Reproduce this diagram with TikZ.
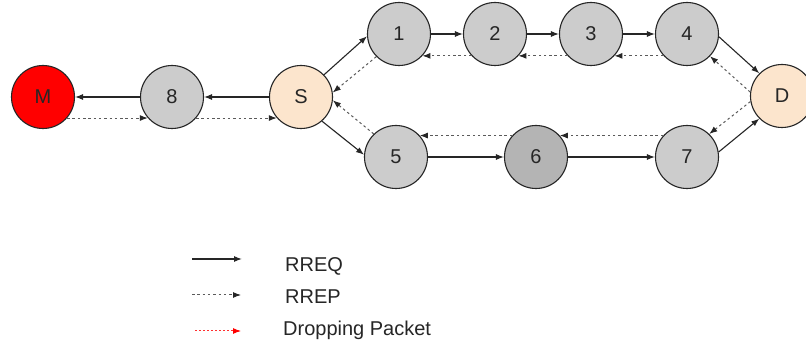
\documentclass[tikz,border=0pt]{standalone}
\usepackage{fontspec}
\setmainfont{Liberation Sans}
\usetikzlibrary{arrows.meta}
\definecolor{peach}{HTML}{FCE5CD}
\definecolor{nodegray}{HTML}{CCCCCC}
\definecolor{midgray}{HTML}{B4B4B4}
\definecolor{dotgray}{HTML}{5A5A5A}
\definecolor{ink}{HTML}{262626}
\definecolor{dropred}{HTML}{FF3030}

\begin{document}
\begin{tikzpicture}[x=1pt,y=-1pt,
  host/.style={circle,draw=ink,line width=1.1pt,minimum size=63pt,inner sep=0pt,
    font=\fontsize{20}{24}\selectfont,text=ink,fill=nodegray},
  req/.style={line width=1.1pt,draw=ink,-{Latex[length=8pt,width=6pt,color=ink]}},
  rep/.style={line width=1pt,draw=dotgray,dash pattern=on 2.5pt off 2.8pt,
    -{Latex[length=8pt,width=6pt,color=ink]}},
  drop/.style={line width=1pt,draw=dropred,dash pattern=on 2pt off 2pt,
    -{Latex[length=8pt,width=6pt,color=red]}},
  legendtext/.style={anchor=west,font=\fontsize{20}{24}\selectfont,text=ink,inner sep=0pt}
]
\clip (0,0) rectangle (806,347);
\fill[white] (0,0) rectangle (806,347);

% hosts
\node[host,fill=red] (M) at (43,97) {M};
\node[host] (n8) at (172,97) {8};
\node[host,fill=peach] (S) at (301,97) {S};
\node[host] (n1) at (399,34) {1};
\node[host] (n2) at (495,34) {2};
\node[host] (n3) at (591,34) {3};
\node[host] (n4) at (687,34) {4};
\node[host,fill=peach] (D) at (782,96) {D};
\node[host] (n5) at (396,157) {5};
\node[host,fill=midgray] (n6) at (536,157) {6};
\node[host] (n7) at (687,157) {7};

% route requests
\draw[req] (S.west) -- (n8.east);
\draw[req] (n8.west) -- (M.east);
\draw[req] (S.44) -- (n1.184);
\draw[req] (n1.east) -- (n2.west);
\draw[req] (n2.east) -- (n3.west);
\draw[req] (n3.east) -- (n4.west);
\draw[req] (n4.-5) -- (D.135);
\draw[req] (S.-49) -- (n5.176);
\draw[req] (n5.east) -- (n6.west);
\draw[req] (n6.east) -- (n7.west);
\draw[req] (n7.9) -- (D.225);

% route replies
\draw[rep] (M.-41) -- (n8.221);
\draw[rep] (n8.-41) -- (S.221);
\draw[rep] (n4.223) -- (n3.-43);
\draw[rep] (n3.223) -- (n2.-43);
\draw[rep] (n2.223) -- (n1.-43);
\draw[rep] (n1.225) -- (S.8);
\draw[rep] (D.173) -- (n4.-44);
\draw[rep] (D.190) -- (n7.46);
\draw[rep] (n7.138) -- (n6.42);
\draw[rep] (n6.138) -- (n5.42);
\draw[rep] (n5.134) -- (S.-6);

% legend
\coordinate (l1a) at (192,259); \coordinate (l1b) at (242,259);
\coordinate (l2a) at (192,295); \coordinate (l2b) at (241,295);
\coordinate (l3a) at (195,331); \coordinate (l3b) at (241,331);
\draw[req] (l1a) -- (l1b);
\draw[rep] (l2a) -- (l2b);
\draw[drop] (l3a) -- (l3b);
\node[legendtext] (t1) at (285,266) {RREQ};
\node[legendtext] (t2) at (285,297) {RREP};
\node[legendtext] (t3) at (283,330) {Dropping Packet};
\end{tikzpicture}
\end{document}
